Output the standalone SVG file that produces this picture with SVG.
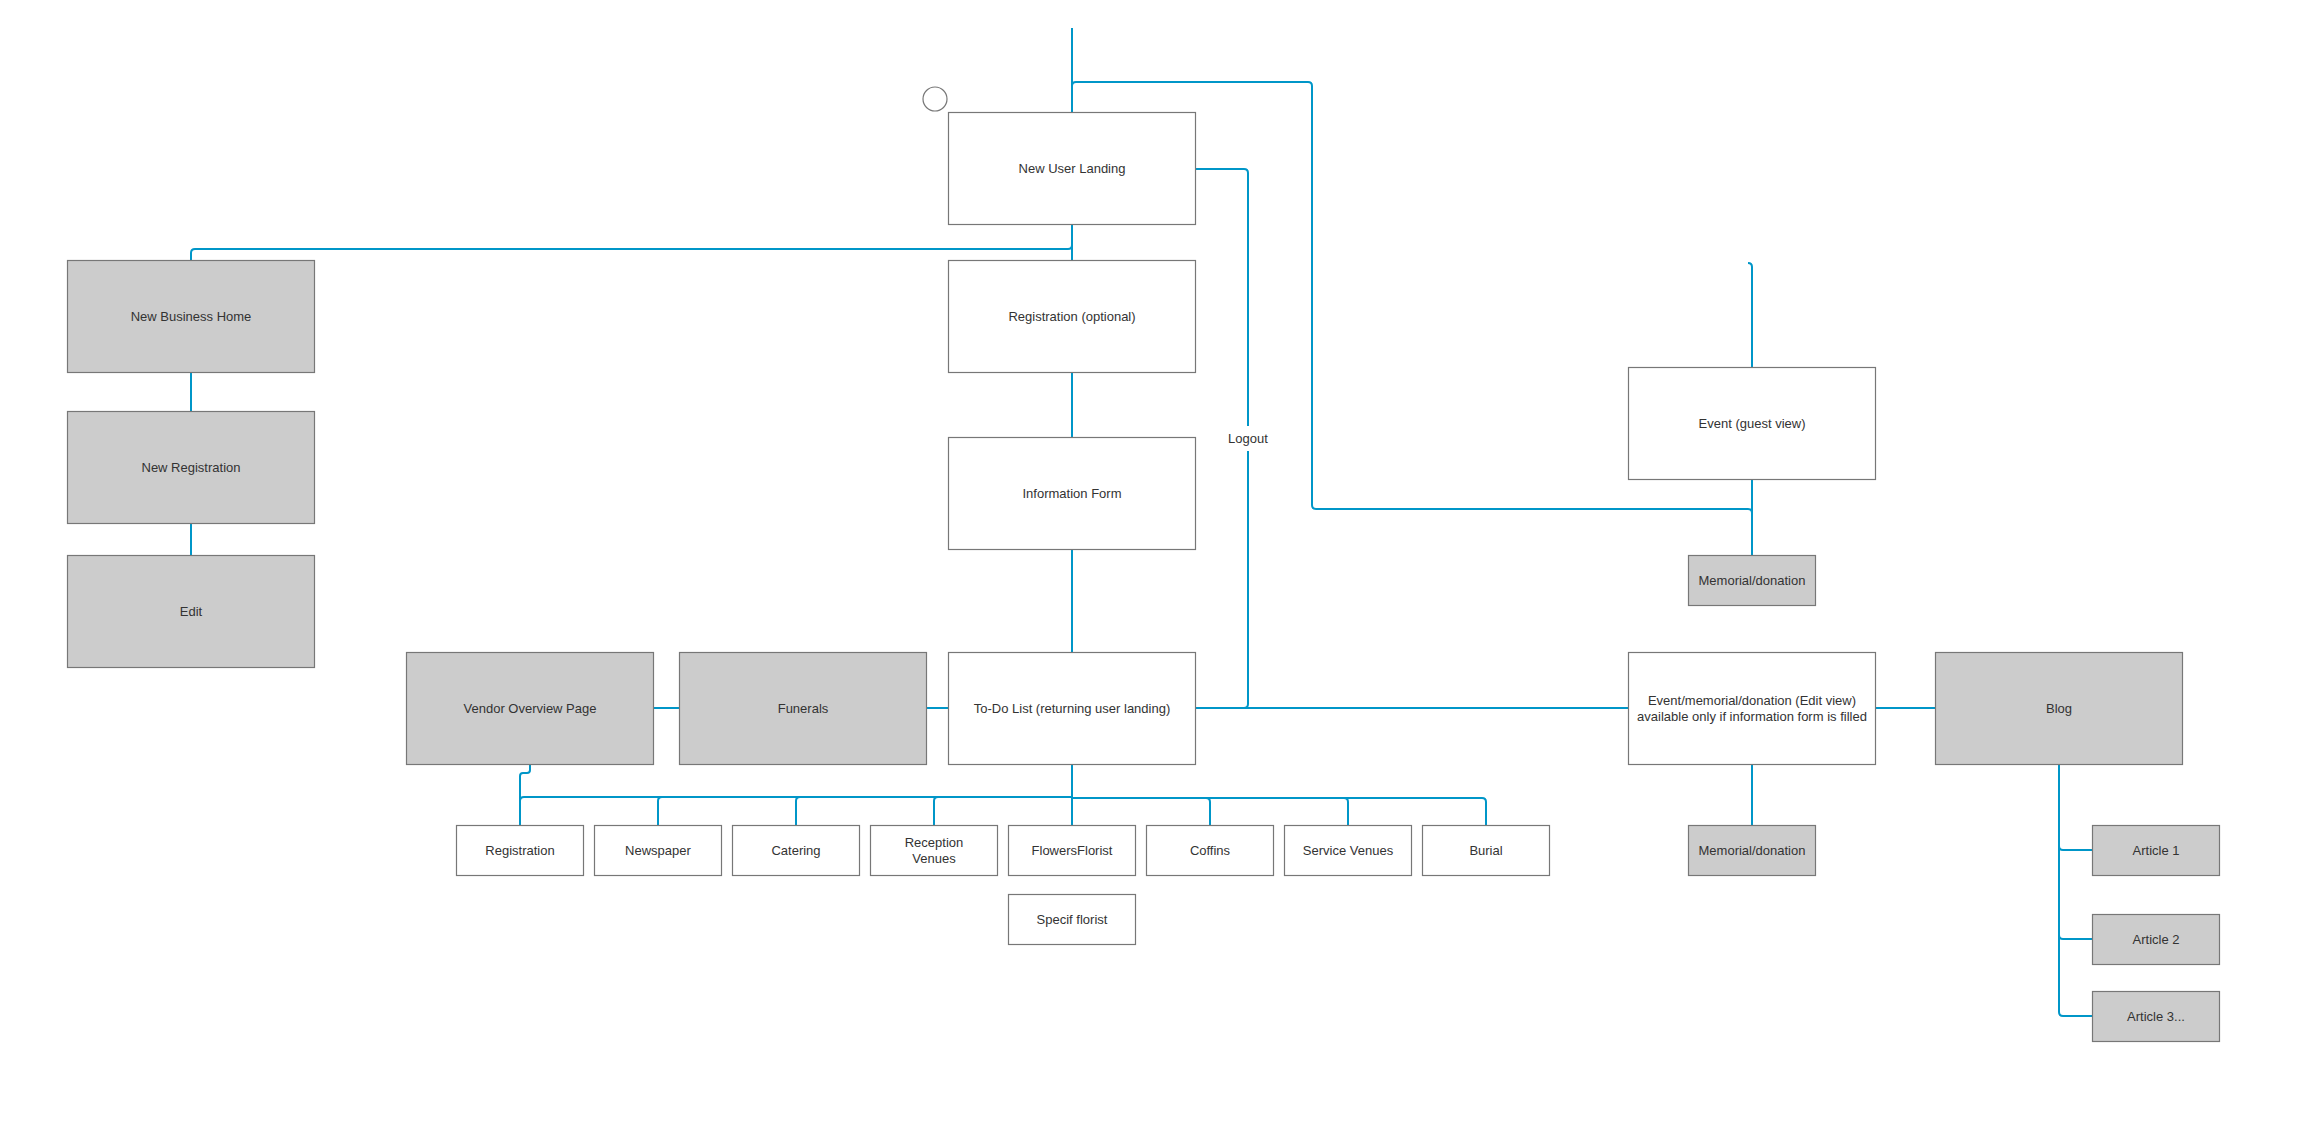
<svg xmlns="http://www.w3.org/2000/svg" width="2320" height="1145" viewBox="0 0 2320 1145">
<style>
.box{fill:#ffffff;stroke:#777777;stroke-width:1.2}
.gbox{fill:#cccccc;stroke:#777777;stroke-width:1.2}
.t{font-family:"Liberation Sans",Arial,sans-serif;font-size:13px;fill:#333333;text-anchor:middle}
.c{fill:none;stroke:#0096c8;stroke-width:2}
</style>
<rect width="2320" height="1145" fill="#ffffff"/>
<g id="connectors">
<path class="c" d="M1072 28 V112"/>
<path class="c" d="M1072 86 Q1072 82 1076 82 H1308 Q1312 82 1312 86 V505 Q1312 509 1316 509 H1748 Q1752 509 1752 513 V555"/>
<path class="c" d="M1195 169 H1244 Q1248 169 1248 173 V426"/>
<path class="c" d="M1248 451 V704 Q1248 708 1244 708 H1195"/>
<path class="c" d="M1195 708 H1628"/>
<path class="c" d="M1072 224 V260"/>
<path class="c" d="M1072 245 Q1072 249 1068 249 H195 Q191 249 191 253 V260"/>
<path class="c" d="M191 372 V411"/>
<path class="c" d="M191 523 V555"/>
<path class="c" d="M1072 372 V437"/>
<path class="c" d="M1072 549 V652"/>
<path class="c" d="M653 708 H679"/>
<path class="c" d="M926 708 H948"/>
<path class="c" d="M1072 764 V825"/>
<path class="c" d="M1072 797 H662 Q658 797 658 801 V825"/>
<path class="c" d="M1072 797 H800 Q796 797 796 801 V825"/>
<path class="c" d="M1072 797 H938 Q934 797 934 801 V825"/>
<path class="c" d="M1072 798 H1206 Q1210 798 1210 802 V825"/>
<path class="c" d="M1072 798 H1344 Q1348 798 1348 802 V825"/>
<path class="c" d="M1072 798 H1482 Q1486 798 1486 802 V825"/>
<path class="c" d="M530 764 V770 Q530 773 527 773 H523 Q520 773 520 776 V825"/>
<path class="c" d="M520 801 Q520 797 524 797 H1072"/>
<path class="c" d="M1748 263 Q1752 263 1752 267 V367"/>
<path class="c" d="M1752 479 V555"/>
<path class="c" d="M1752 764 V825"/>
<path class="c" d="M1875 708 H1935"/>
<path class="c" d="M2059 764 V1012 Q2059 1016 2063 1016 H2092"/>
<path class="c" d="M2059 846 Q2059 850 2063 850 H2092"/>
<path class="c" d="M2059 935 Q2059 939 2063 939 H2092"/>
<text class="t" x="1248" y="443">Logout</text>
</g>
<circle cx="935" cy="99" r="12" fill="none" stroke="#777777" stroke-width="1.2"/>
<g id="n-new-user-landing"><rect class="box" x="948.5" y="112.5" width="247" height="112"/><text class="t" x="1072" y="173">New User Landing</text></g>
<g id="n-registration-optional"><rect class="box" x="948.5" y="260.5" width="247" height="112"/><text class="t" x="1072" y="321">Registration (optional)</text></g>
<g id="n-information-form"><rect class="box" x="948.5" y="437.5" width="247" height="112"/><text class="t" x="1072" y="498">Information Form</text></g>
<g id="n-todo"><rect class="box" x="948.5" y="652.5" width="247" height="112"/><text class="t" x="1072" y="713">To-Do List (returning user landing)</text></g>
<g id="n-funerals"><rect class="gbox" x="679.5" y="652.5" width="247" height="112"/><text class="t" x="803" y="713">Funerals</text></g>
<g id="n-vendor-overview"><rect class="gbox" x="406.5" y="652.5" width="247" height="112"/><text class="t" x="530" y="713">Vendor Overview Page</text></g>
<g id="n-new-business-home"><rect class="gbox" x="67.5" y="260.5" width="247" height="112"/><text class="t" x="191" y="321">New Business Home</text></g>
<g id="n-new-registration"><rect class="gbox" x="67.5" y="411.5" width="247" height="112"/><text class="t" x="191" y="472">New Registration</text></g>
<g id="n-edit"><rect class="gbox" x="67.5" y="555.5" width="247" height="112"/><text class="t" x="191" y="616">Edit</text></g>
<g id="n-event-guest"><rect class="box" x="1628.5" y="367.5" width="247" height="112"/><text class="t" x="1752" y="428">Event (guest view)</text></g>
<g id="n-memorial-1"><rect class="gbox" x="1688.5" y="555.5" width="127" height="50"/><text class="t" x="1752" y="585">Memorial/donation</text></g>
<g id="n-event-edit"><rect class="box" x="1628.5" y="652.5" width="247" height="112"/><text class="t" x="1752" y="705">Event/memorial/donation (Edit view)</text><text class="t" x="1752" y="721">available only if information form is filled</text></g>
<g id="n-memorial-2"><rect class="gbox" x="1688.5" y="825.5" width="127" height="50"/><text class="t" x="1752" y="855">Memorial/donation</text></g>
<g id="n-blog"><rect class="gbox" x="1935.5" y="652.5" width="247" height="112"/><text class="t" x="2059" y="713">Blog</text></g>
<g id="n-article-1"><rect class="gbox" x="2092.5" y="825.5" width="127" height="50"/><text class="t" x="2156" y="855">Article 1</text></g>
<g id="n-article-2"><rect class="gbox" x="2092.5" y="914.5" width="127" height="50"/><text class="t" x="2156" y="944">Article 2</text></g>
<g id="n-article-3"><rect class="gbox" x="2092.5" y="991.5" width="127" height="50"/><text class="t" x="2156" y="1021">Article 3...</text></g>
<g id="n-registration"><rect class="box" x="456.5" y="825.5" width="127" height="50"/><text class="t" x="520" y="855">Registration</text></g>
<g id="n-newspaper"><rect class="box" x="594.5" y="825.5" width="127" height="50"/><text class="t" x="658" y="855">Newspaper</text></g>
<g id="n-catering"><rect class="box" x="732.5" y="825.5" width="127" height="50"/><text class="t" x="796" y="855">Catering</text></g>
<g id="n-reception-venues"><rect class="box" x="870.5" y="825.5" width="127" height="50"/><text class="t" x="934" y="847">Reception</text><text class="t" x="934" y="863">Venues</text></g>
<g id="n-flowers-florist"><rect class="box" x="1008.5" y="825.5" width="127" height="50"/><text class="t" x="1072" y="855">FlowersFlorist</text></g>
<g id="n-coffins"><rect class="box" x="1146.5" y="825.5" width="127" height="50"/><text class="t" x="1210" y="855">Coffins</text></g>
<g id="n-service-venues"><rect class="box" x="1284.5" y="825.5" width="127" height="50"/><text class="t" x="1348" y="855">Service Venues</text></g>
<g id="n-burial"><rect class="box" x="1422.5" y="825.5" width="127" height="50"/><text class="t" x="1486" y="855">Burial</text></g>
<g id="n-specif-florist"><rect class="box" x="1008.5" y="894.5" width="127" height="50"/><text class="t" x="1072" y="924">Specif florist</text></g>
</svg>
